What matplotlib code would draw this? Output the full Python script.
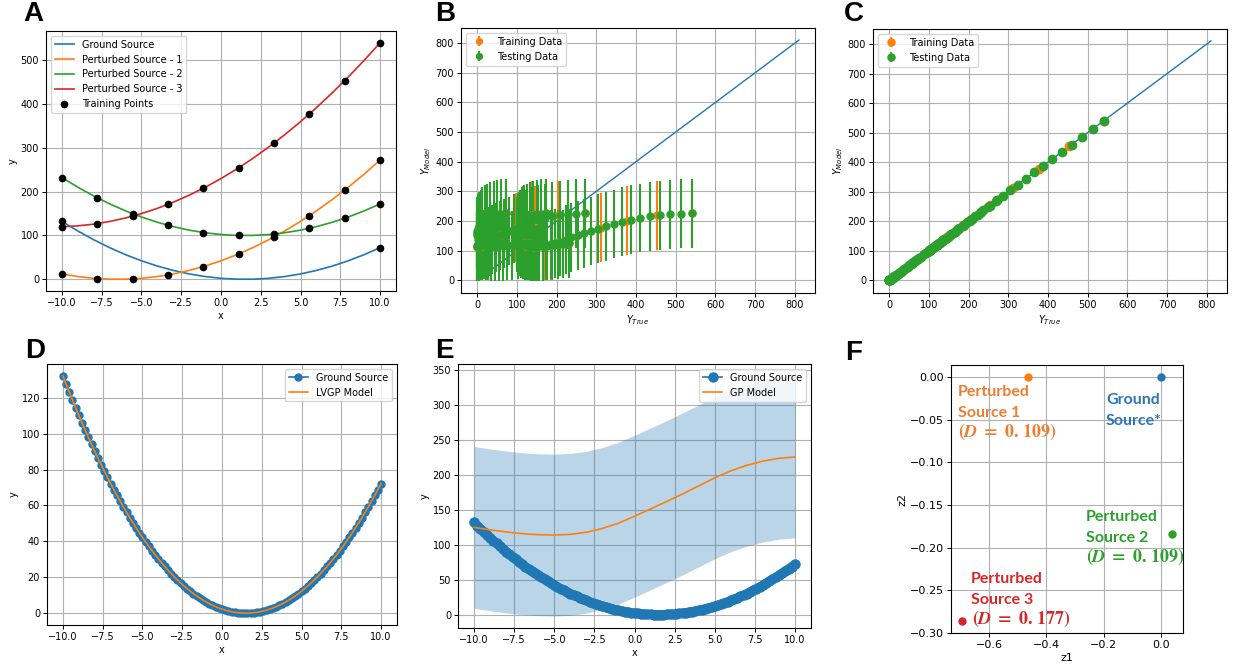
import matplotlib.pyplot as plt

# ---------------- data ----------------
# A: sources on an integer x grid
x_line = [-10, -9, -8, -7, -6, -5, -4, -3, -2, -1, 0, 1, 2, 3, 4, 5, 6, 7, 8, 9, 10]
ground_line = [132.25, 110.25, 90.25, 72.25, 56.25, 42.25, 30.25, 20.25, 12.25, 6.25, 2.25,
               0.25, 0.25, 2.25, 6.25, 12.25, 20.25, 30.25, 42.25, 56.25, 72.25]
p1_line = [12.25, 6.25, 2.25, 0.25, 0.25, 2.25, 6.25, 12.25, 20.25, 30.25, 42.25,
           56.25, 72.25, 90.25, 110.25, 132.25, 156.25, 182.25, 210.25, 240.25, 272.25]
p2_line = [232.25, 210.25, 190.25, 172.25, 156.25, 142.25, 130.25, 120.25, 112.25, 106.25, 102.25,
           100.25, 100.25, 102.25, 106.25, 112.25, 120.25, 130.25, 142.25, 156.25, 172.25]
p3_line = [120, 122, 126, 132, 140, 150, 162, 176, 192, 210, 230,
           252, 276, 302, 330, 360, 392, 426, 462, 500, 540]

# training points
x_train = [-10.0, -7.778, -5.556, -3.333, -1.111, 1.111, 3.333, 5.556, 7.778, 10.0]
ground_train_x = [-10.0, 10.0]
ground_train = [132.25, 72.25]
p1_train = [12.25, 1.63, 0.89, 10.03, 29.04, 57.93, 96.69, 145.34, 203.86, 272.25]
p2_train = [232.25, 186.08, 149.78, 123.36, 106.82, 100.15, 103.36, 116.45, 139.41, 172.25]
p3_train = [120.0, 127.16, 144.20, 171.11, 207.90, 254.57, 311.11, 377.53, 453.83, 540.0]

# test points (30 per source)
x_test = [-10.0, -9.31, -8.621, -7.931, -7.241, -6.552, -5.862, -5.172, -4.483, -3.793,
          -3.103, -2.414, -1.724, -1.034, -0.345, 0.345, 1.034, 1.724, 2.414, 3.103,
          3.793, 4.483, 5.172, 5.862, 6.552, 7.241, 7.931, 8.621, 9.31, 10.0]
ground_test = [132.25, 116.86, 102.43, 88.94, 76.41, 64.83, 54.20, 44.52, 35.80, 28.02,
               21.19, 15.32, 10.39, 6.42, 3.40, 1.33, 0.22, 0.05, 0.84, 2.57,
               5.26, 8.90, 13.48, 19.03, 25.52, 32.96, 41.36, 50.71, 61.00, 72.25]
p1_test = [12.25, 7.90, 4.50, 2.05, 0.55, 0.00, 0.41, 1.76, 4.07, 7.33,
           11.54, 16.70, 22.81, 29.87, 37.89, 46.85, 56.77, 67.63, 79.45, 92.22,
           105.95, 120.63, 136.24, 152.82, 170.35, 188.81, 208.25, 228.64, 249.96, 272.25]
p2_test = [232.25, 216.86, 202.43, 188.94, 176.41, 164.83, 154.20, 144.52, 135.80, 128.02,
           121.19, 115.32, 110.39, 106.42, 103.40, 101.33, 100.22, 100.05, 100.84, 102.57,
           105.26, 108.90, 113.48, 119.03, 125.52, 132.96, 141.36, 150.71, 161.00, 172.25]
p3_test = [120.00, 121.17, 123.28, 126.35, 130.37, 135.34, 141.26, 148.14, 155.95, 164.73,
           174.47, 185.13, 196.77, 209.36, 222.87, 237.36, 252.78, 269.18, 286.52, 304.79,
           324.04, 344.24, 365.36, 387.47, 410.52, 434.49, 459.45, 485.36, 512.19, 540.00]

# GP (source-blind) prediction
gp_train = [125.0, 117.8, 114.1, 116.8, 130.0, 152.6, 176.8, 200.6, 218.7, 226.0]
gp_ground_train = [125.0, 226.0]
gp_test = [125.0, 122.6, 120.3, 118.3, 116.6, 115.3, 114.4, 114.0, 114.4, 115.6,
           117.6, 121.1, 125.5, 130.8, 137.6, 144.6, 151.8, 159.1, 166.5, 174.2,
           182.2, 190.1, 197.7, 204.6, 210.4, 215.4, 219.6, 222.5, 224.6, 226.0]
gp_err = 116
lvgp_err = 2
parity_line = [0, 810]

# E: GP mean and band on the integer grid
gp_mean = [125, 121.5, 118.5, 116, 114.5, 114, 115, 118, 123.5, 131, 141,
           151.5, 162, 173, 184.5, 196, 206, 214, 220, 224, 226]
gp_upper = [241, 237.5, 234.5, 232, 230.5, 230, 231, 234, 239.5, 247, 257,
            267.5, 278, 289, 300.5, 312, 322, 330, 336, 340, 342]
gp_lower = [9, 5.5, 2.5, 0, -1.5, -2, -1, 2, 7.5, 15, 25,
            35.5, 46, 57, 68.5, 80, 90, 98, 104, 108, 110]

# D/E: ground source on a fine grid
x_dense = [-10.0, -9.8, -9.6, -9.4, -9.2, -9.0, -8.8, -8.6, -8.4, -8.2,
           -8.0, -7.8, -7.6, -7.4, -7.2, -7.0, -6.8, -6.6, -6.4, -6.2,
           -6.0, -5.8, -5.6, -5.4, -5.2, -5.0, -4.8, -4.6, -4.4, -4.2,
           -4.0, -3.8, -3.6, -3.4, -3.2, -3.0, -2.8, -2.6, -2.4, -2.2,
           -2.0, -1.8, -1.6, -1.4, -1.2, -1.0, -0.8, -0.6, -0.4, -0.2,
           0.0, 0.2, 0.4, 0.6, 0.8, 1.0, 1.2, 1.4, 1.6, 1.8,
           2.0, 2.2, 2.4, 2.6, 2.8, 3.0, 3.2, 3.4, 3.6, 3.8,
           4.0, 4.2, 4.4, 4.6, 4.8, 5.0, 5.2, 5.4, 5.6, 5.8,
           6.0, 6.2, 6.4, 6.6, 6.8, 7.0, 7.2, 7.4, 7.6, 7.8,
           8.0, 8.2, 8.4, 8.6, 8.8, 9.0, 9.2, 9.4, 9.6, 9.8, 10.0]
ground_dense = [132.25, 127.69, 123.21, 118.81, 114.49, 110.25, 106.09, 102.01, 98.01, 94.09,
                90.25, 86.49, 82.81, 79.21, 75.69, 72.25, 68.89, 65.61, 62.41, 59.29,
                56.25, 53.29, 50.41, 47.61, 44.89, 42.25, 39.69, 37.21, 34.81, 32.49,
                30.25, 28.09, 26.01, 24.01, 22.09, 20.25, 18.49, 16.81, 15.21, 13.69,
                12.25, 10.89, 9.61, 8.41, 7.29, 6.25, 5.29, 4.41, 3.61, 2.89,
                2.25, 1.69, 1.21, 0.81, 0.49, 0.25, 0.09, 0.01, 0.01, 0.09,
                0.25, 0.49, 0.81, 1.21, 1.69, 2.25, 2.89, 3.61, 4.41, 5.29,
                6.25, 7.29, 8.41, 9.61, 10.89, 12.25, 13.69, 15.21, 16.81, 18.49,
                20.25, 22.09, 24.01, 26.01, 28.09, 30.25, 32.49, 34.81, 37.21, 39.69,
                42.25, 44.89, 47.61, 50.41, 53.29, 56.25, 59.29, 62.41, 65.61, 68.89, 72.25]
lvgp_dense = ground_dense

# F: latent positions
z1 = [0.0, -0.465, 0.041, -0.697]
z2 = [0.0, 0.0, -0.184, -0.286]
latent_dist = [None, "0.\\,109", "0.\\,109", "0.\\,177"]

C0, C1, C2, C3 = "#1f77b4", "#ff7f0e", "#2ca02c", "#d62728"
FS = 7

plt.rcParams["font.size"] = FS
plt.rcParams["xtick.labelsize"] = FS
plt.rcParams["ytick.labelsize"] = FS
plt.rcParams["axes.labelsize"] = FS
plt.rcParams["axes.labelpad"] = 2

fig = plt.figure(figsize=(12.33, 6.68), dpi=100)
W, H = 1233, 668


def box(x0, x1, top, bottom):
    return [x0 / W, 1 - bottom / H, (x1 - x0) / W, (bottom - top) / H]


axA = fig.add_axes(box(46, 396, 31, 291))
axB = fig.add_axes(box(461, 815, 28, 293))
axC = fig.add_axes(box(873, 1227, 29, 293))
axD = fig.add_axes(box(47, 397, 364, 625))
axE = fig.add_axes(box(458, 811, 364, 628))
axF = fig.add_axes(box(951, 1183, 365, 633))

for ax in (axA, axB, axC, axD, axE, axF):
    ax.grid(True, color="#b0b0b0", lw=0.8)
    ax.set_axisbelow(True)
    ax.tick_params(length=3, width=0.7, pad=2)

# ---- A ----
axA.plot(x_line, ground_line, color=C0, lw=1.2, label="Ground Source")
axA.plot(x_line, p1_line, color=C1, lw=1.2, label="Perturbed Source - 1")
axA.plot(x_line, p2_line, color=C2, lw=1.2, label="Perturbed Source - 2")
axA.plot(x_line, p3_line, color=C3, lw=1.2, label="Perturbed Source - 3")
tx = ground_train_x + x_train + x_train + x_train
ty = ground_train + p1_train + p2_train + p3_train
axA.plot(tx, ty, "o", color="k", ms=4.5, label="Training Points")
axA.set_xlabel("x")
axA.set_ylabel("y")
axA.legend(loc="upper left", fontsize=FS)

# ---- B / C ----
true_train = ground_train + p1_train + p2_train + p3_train
true_test = ground_test + p1_test + p2_test + p3_test
pred_train = gp_ground_train + gp_train + gp_train + gp_train
pred_test = gp_test + gp_test + gp_test + gp_test

axB.plot(parity_line, parity_line, color=C0, lw=1.0)
axB.errorbar(true_train, pred_train, yerr=gp_err, fmt="o", color=C1, ms=5, lw=1.5,
             label="Training Data")
axB.errorbar(true_test, pred_test, yerr=gp_err, fmt="o", color=C2, ms=5, lw=1.5,
             label="Testing Data")

axC.plot(parity_line, parity_line, color=C0, lw=1.0)
axC.errorbar(true_train, true_train, yerr=lvgp_err, fmt="o", color=C1, ms=6, lw=1.2,
             label="Training Data")
axC.errorbar(true_test, true_test, yerr=lvgp_err, fmt="o", color=C2, ms=6, lw=1.2,
             label="Testing Data")

for ax in (axB, axC):
    ax.set_xlabel(r"$Y_{True}$")
    ax.set_ylabel(r"$Y_{Model}$")
    ax.legend(loc="upper left", fontsize=FS, markerscale=0.85)
    ax.set_xticks([0, 100, 200, 300, 400, 500, 600, 700, 800])
    ax.set_yticks([0, 100, 200, 300, 400, 500, 600, 700, 800])

# ---- D ----
axD.plot(x_dense, ground_dense, "o-", color=C0, ms=5, lw=1.2, label="Ground Source")
axD.plot(x_dense, lvgp_dense, color=C1, lw=1.2, label="LVGP Model")
axD.set_xlabel("x")
axD.set_ylabel("y")
axD.legend(loc="upper right", fontsize=FS)

# ---- E ----
axE.plot(x_dense, ground_dense, color=C0, lw=6.5, solid_capstyle="round")
axE.plot(x_dense, ground_dense, "o-", color=C0, ms=6.5, lw=1.2, label="Ground Source")
axE.plot(x_line, gp_mean, color=C1, lw=1.2, label="GP Model")
axE.fill_between(x_line, gp_lower, gp_upper, color=C0, alpha=0.3, lw=0)
axE.set_xlabel("x")
axE.set_ylabel("y")
axE.legend(loc="upper right", fontsize=FS)

# ---- F ----
pt_colors = [C0, C1, C2, C3]
txt_colors = ["#2E75B6", "#ED7D31", "#2CA02C", "#D62728"]
for i in range(4):
    axF.plot(z1[i], z2[i], "o", color=pt_colors[i], ms=5)
axF.set_xlabel("z1", fontsize=8)
axF.set_ylabel("z2", fontsize=8)
axF.tick_params(labelsize=8)
axF.set_xticks([-0.6, -0.4, -0.2, 0.0])
axF.set_yticks([0.0, -0.05, -0.10, -0.15, -0.20, -0.25, -0.30])
axF.set_yticklabels(["0.00", "\u22120.05", "\u22120.10", "\u22120.15", "\u22120.20", "\u22120.25", "\u22120.30"])

# label layout: (x, baseline of line 1, baseline of line 2, baseline of D line, x of D line)
label_pos = [
    (-0.1916, -0.0310, -0.0558, None, None),
    (-0.709, -0.0224, -0.0467, -0.0703, -0.709),
    (-0.2616, -0.1686, -0.1934, -0.2170, -0.2600),
    (-0.665, -0.2413, -0.2661, -0.2896, -0.662),
]
name_lines = [("Ground", "Source*"), ("Perturbed", "Source 1"),
              ("Perturbed", "Source 2"), ("Perturbed", "Source 3")]
for i in range(4):
    x, b1, b2, b3, xd = label_pos[i]
    l1, l2 = name_lines[i]
    kw = dict(color=txt_colors[i], fontsize=11.5, fontweight="bold", family="Lato",
              va="baseline", ha="left", clip_on=False)
    axF.text(x, b1, l1, **kw)
    axF.text(x, b2, l2, **kw)
    if latent_dist[i] is not None:
        axF.text(xd, b3, r"$\mathbf{(}\mathbfit{D}\ \mathbf{=}\ \mathbf{" + latent_dist[i] + r")}$",
                 color=txt_colors[i], fontsize=13, math_fontfamily="stix",
                 va="baseline", ha="left", clip_on=False)

# ---- panel letters ----
letters = [("A", 23, 21), ("B", 435, 21), ("C", 844, 21),
           ("D", 25, 358), ("E", 435, 358), ("F", 845, 360)]
for s, px, py in letters:
    fig.text(px / W, 1 - py / H, s, fontsize=20, fontweight="bold",
             family="Liberation Sans", va="baseline", ha="left")

fig.savefig("out.png", dpi=100)
